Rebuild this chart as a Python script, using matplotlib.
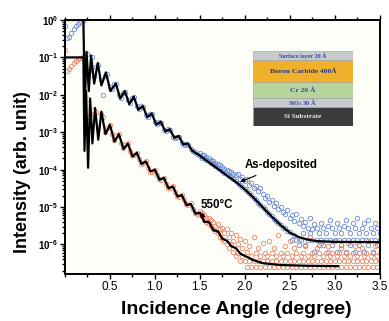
import numpy as np
import matplotlib
matplotlib.use("Agg")
import matplotlib.pyplot as plt
from matplotlib.patches import Rectangle
from matplotlib.ticker import LogLocator, NullFormatter, MultipleLocator

plt.rcParams['font.family'] = ['Liberation Sans', 'DejaVu Sans']
plt.rcParams['mathtext.fontset'] = 'custom'
plt.rcParams['mathtext.rm'] = 'Liberation Sans'
plt.rcParams['mathtext.bf'] = 'Liberation Sans:bold'

# measured points, log10(intensity); scan step 0.025 deg
x_head = np.linspace(0, 1.475, 60)
x_tail = np.linspace(1.5, 3.5, 81)

asdep_head = [-0.15, -0.48, -0.45, -0.35, -0.25, -0.17, -0.10, -0.05, -0.02, -1.60,
              -0.90, -1.35, -1.00, -1.50, -1.25, -1.20, -1.60, -2.00, -1.50, -1.45,
              -1.80, -1.85, -1.70, -1.72, -2.00, -2.08, -1.95, -1.92, -2.15, -2.22,
              -2.08, -2.05, -2.30, -2.38, -2.30, -2.33, -2.55, -2.58, -2.50, -2.52,
              -2.72, -2.78, -2.72, -2.75, -2.93, -2.97, -2.92, -2.95, -3.12, -3.15,
              -3.12, -3.13, -3.30, -3.33, -3.32, -3.33, -3.45, -3.50, -3.52, -3.57]
asdep_tail_a = [-3.55, -3.60, -3.62, -3.66, -3.70, -3.73, -3.77, -3.81, -3.84, -3.88,
                -3.92, -3.97, -4.00, -4.03, -4.06, -4.12, -4.15, -4.12, -4.25, -4.20,
                -4.30, -4.25, -4.40, -4.35, -4.50, -4.45, -4.58, -4.50, -4.66, -4.76,
                -4.70, -4.86, -4.80, -4.96, -4.90, -5.06, -5.00, -5.12, -5.18, -5.08,
                -5.28, -5.22, -5.38, -5.18, -5.43, -5.33, -5.50, -5.40, -5.55, -5.30,
                -5.60, -5.45, -5.57, -5.70, -5.43, -5.57, -5.70, -5.50, -5.35, -5.57,
                -5.70, -5.43, -5.57, -5.70, -5.50, -5.35, -5.57, -5.70, -5.43, -5.57,
                -5.30, -5.70, -5.57, -5.43, -5.70, -5.35, -5.57, -5.70, -5.43, -5.57,
                -5.70]
asdep_tail_b = [-3.63, -3.68, -3.70, -3.73, -3.78, -3.82, -3.86, -3.90, -3.95, -3.99,
                -4.03, -4.08, -4.12, -4.17, -4.21, -4.26, -4.30, -4.35, -4.41, -4.47,
                -4.52, -4.57, -4.63, -4.69, -4.75, -4.82, -4.88, -4.94, -5.00, -5.06,
                -5.12, -5.18, -5.25, -5.31, -5.37, -5.43, -5.48, -5.56, -5.55, -5.64,
                -5.68, -5.88, -5.75, -5.88, -6.02, -5.88, -5.70, -6.02, -5.88, -5.70,
                -5.88, -6.20, -5.88, -6.02, -5.88, -6.02, -5.88, -6.20, -5.88, -6.02,
                -5.88, -6.20, -5.88, -6.02, -5.88, -6.20, -5.88, -6.02, -5.88, -6.20,
                -5.88, -6.02, -5.88, -6.20, -5.88, -6.02, -5.88, -6.20, -5.88, -6.02,
                -5.88]

ann_head = [-0.80, -1.35, -1.30, -1.22, -1.15, -1.10, -1.05, -1.02, -1.00, -2.60,
            -2.10, -2.60, -2.40, -2.50, -2.45, -2.90, -2.50, -2.60, -3.00, -2.90,
            -2.80, -3.05, -3.20, -3.10, -3.05, -3.30, -3.42, -3.35, -3.30, -3.50,
            -3.62, -3.60, -3.55, -3.72, -3.85, -3.82, -3.78, -3.95, -4.05, -4.05,
            -4.00, -4.15, -4.25, -4.28, -4.22, -4.38, -4.48, -4.50, -4.45, -4.60,
            -4.70, -4.72, -4.68, -4.82, -4.92, -4.95, -4.90, -5.05, -5.15, -5.18]
ann_tail_a = [-5.10, -5.15, -5.20, -5.28, -5.30, -5.35, -5.40, -5.50, -5.45, -5.60,
              -5.55, -5.70, -5.60, -5.80, -5.70, -5.90, -5.75, -6.00, -5.85, -6.10,
              -5.90, -6.20, -6.05, -6.30, -5.80, -6.22, -6.10, -6.30, -5.95, -6.22,
              -6.30, -5.90, -6.22, -6.10, -6.30, -5.75, -6.22, -6.30, -6.05, -6.22,
              -5.90, -6.30, -6.10, -6.22, -5.85, -6.30, -6.22, -6.05, -6.30, -5.80,
              -6.22, -6.30, -6.10, -6.22, -5.95, -6.30, -6.22, -6.05, -6.30, -6.22,
              -5.90, -6.30, -6.22, -6.10, -6.30, -6.22, -5.95, -6.30, -6.22, -6.05,
              -6.30, -6.22, -6.10, -6.30, -6.22, -5.90, -6.30, -6.22, -6.05, -6.30,
              -6.22]
ann_tail_b = [-5.20, -5.25, -5.35, -5.40, -5.45, -5.50, -5.60, -5.65, -5.70, -5.80,
              -5.85, -5.90, -6.00, -6.10, -6.00, -6.20, -6.30, -6.22, -6.45, -6.30,
              -6.45, -6.61, -6.45, -6.61, -6.45, -6.61, -6.45, -6.61, -6.45, -6.61,
              -6.45, -6.61, -6.45, -6.61, -6.45, -6.61, -6.45, -6.61, -6.45, -6.61,
              -6.45, -6.61, -6.45, -6.61, -6.45, -6.61, -6.45, -6.61, -6.45, -6.61,
              -6.45, -6.61, -6.45, -6.61, -6.45, -6.61, -6.45, -6.61, -6.45, -6.61,
              -6.45, -6.61, -6.45, -6.61, -6.45, -6.61, -6.45, -6.61, -6.45, -6.61,
              -6.45, -6.61, -6.45, -6.61, -6.45, -6.61, -6.45, -6.61, -6.45, -6.61,
              -6.45]

# fitted curves (log10)
fit_asdep_x = [0, 0.21, 0.225, 0.245, 0.27, 0.295, 0.33, 0.37, 0.41, 0.46, 0.51, 0.57,
               0.62, 0.67, 0.72, 0.77, 0.82, 0.87, 0.92, 0.97, 1.02, 1.07, 1.12, 1.17,
               1.22, 1.27, 1.32, 1.37, 1.42, 1.5, 1.6, 1.7, 1.8, 1.9, 2.0, 2.1, 2.2,
               2.3, 2.4, 2.5, 2.6, 2.7, 2.8, 3.0, 3.5]
fit_asdep_y = [0, 0, -2.3, -0.85, -1.9, -0.95, -1.7, -1.15, -1.75, -1.4, -1.9, -1.7,
               -2.1, -1.9, -2.25, -2.05, -2.4, -2.3, -2.6, -2.5, -2.8, -2.72, -2.98, -2.92,
               -3.15, -3.1, -3.33, -3.3, -3.5, -3.62, -3.8, -3.97, -4.15, -4.32, -4.52,
               -4.75, -5.0, -5.25, -5.48, -5.68, -5.8, -5.87, -5.91, -5.93, -5.94]

fit_ann_x = [0, 0.21, 0.222, 0.24, 0.262, 0.285, 0.31, 0.34, 0.375, 0.41, 0.455, 0.505,
             0.555, 0.605, 0.655, 0.705, 0.755, 0.805, 0.855, 0.905, 0.955, 1.005, 1.055,
             1.105, 1.155, 1.205, 1.255, 1.305, 1.355, 1.405, 1.455, 1.505, 1.555, 1.605,
             1.655, 1.705, 1.755, 1.805, 1.855, 1.905, 1.955, 2.0, 2.1, 2.2, 2.4, 2.7, 3.04]
fit_ann_y = [-1, -1, -3.5, -1.9, -3.95, -2.1, -3.3, -2.35, -3.2, -2.45, -3.05, -2.8,
             -3.25, -3.05, -3.45, -3.3, -3.65, -3.55, -3.85, -3.78, -4.05, -4.0, -4.27,
             -4.22, -4.5, -4.45, -4.72, -4.68, -4.95, -4.92, -5.18, -5.15, -5.4, -5.4,
             -5.62, -5.65, -5.85, -5.9, -6.05, -6.1, -6.25, -6.3, -6.42, -6.5, -6.55,
             -6.57, -6.58]

blue = '#6a8bd4'
orange = '#ee8468'

fig = plt.figure(figsize=(3.89, 3.21), dpi=100)
ax = fig.add_axes([64.5 / 389, 1 - 274 / 321, 315 / 389, 254 / 321])
ax.set_facecolor('#fefef9')

pts = dict(ls='none', marker='o', mfc='none', ms=3.2, mew=0.6)
for xs, ys, c in [(x_head, asdep_head, blue), (x_tail, asdep_tail_a, blue),
                  (x_tail, asdep_tail_b, blue), (x_head, ann_head, orange),
                  (x_tail, ann_tail_a, orange), (x_tail, ann_tail_b, orange)]:
    ax.plot(xs, 10 ** np.array(ys), mec=c, **pts)

ax.plot(fit_asdep_x, 10 ** np.array(fit_asdep_y), color='k', lw=1.6, zorder=3)
ax.plot(fit_ann_x, 10 ** np.array(fit_ann_y), color='k', lw=1.6, zorder=3)

ax.set_yscale('log')
ax.set_xlim(0, 3.5)
ax.set_ylim(10 ** -6.79, 1.0)

ax.set_xticks([0.5, 1.0, 1.5, 2.0, 2.5, 3.0, 3.5])
ax.xaxis.set_minor_locator(MultipleLocator(0.25))
ax.set_yticks([10.0 ** -k for k in range(7)])
ax.set_yticklabels([r'$\mathbf{10^{%d}}$' % -k for k in range(7)])
ax.yaxis.set_minor_locator(LogLocator(base=10, subs=np.arange(2, 10), numticks=20))
ax.yaxis.set_minor_formatter(NullFormatter())

ax.tick_params(which='both', direction='out', top=True, right=False, width=1.0)
ax.tick_params(which='major', length=3.5)
ax.tick_params(which='minor', length=2)
ax.tick_params(axis='x', labelsize=8.5, pad=1.5)
ax.tick_params(axis='y', labelsize=7, pad=1)
for s in ax.spines.values():
    s.set_linewidth(1.4)

ax.set_xlabel('Incidence Angle (degree)', fontsize=14, fontweight='bold')
ax.set_ylabel('Intensity (arb. unit)', fontsize=13, fontweight='bold')
ax.xaxis.set_label_coords(0.544, -0.106)
ax.yaxis.set_label_coords(-0.106, 0.40)

ax.annotate('As-deposited', xy=(1.95, 10 ** -4.33), xytext=(2.41, 10 ** -3.88),
            fontsize=8.3, fontweight='bold', ha='center', va='center',
            arrowprops=dict(arrowstyle='-|>', color='k', lw=0.8, mutation_scale=6,
                            shrinkA=3, shrinkB=0))
ax.annotate('550°C', xy=(1.505, 10 ** -5.29), xytext=(1.69, 10 ** -4.95),
            fontsize=8.3, fontweight='bold', ha='center', va='center',
            arrowprops=dict(arrowstyle='-|>', color='k', lw=0.8, mutation_scale=6,
                            shrinkA=3, shrinkB=0))

# layer stack sketch
ins = fig.add_axes([253 / 389, 1 - 126 / 321, 100 / 389, 75 / 321])
ins.set_xlim(0, 1)
ins.set_ylim(0, 1)
ins.axis('off')
layers = [
    (0.0, 0.253, '#3b3c3e', 'Si Substrate', '#e8e8e8', 5.2),
    (0.253, 0.373, '#c9cacc', 'SiO$_2$ 30 Å', '#2a48a8', 4.6),
    (0.373, 0.587, '#b6d59c', 'Cr 20 Å', '#2a48a8', 5.4),
    (0.587, 0.88, '#f0b12a', 'Boron Carbide 400Å', '#24368c', 5.4),
    (0.88, 1.0, '#c9cacc', 'Surface layer 20 Å', '#2a48a8', 4.3),
]
for y0, y1, fc, label, tc, fs in layers:
    ins.add_patch(Rectangle((0, y0), 1, y1 - y0, facecolor=fc, edgecolor='#9a9a9a', lw=0.4))
    ins.text(0.5, (y0 + y1) / 2, label, ha='center', va='center', color=tc,
             fontsize=fs, fontweight='bold', family=['Liberation Serif', 'DejaVu Serif'])

fig.savefig('out.png', dpi=100)
